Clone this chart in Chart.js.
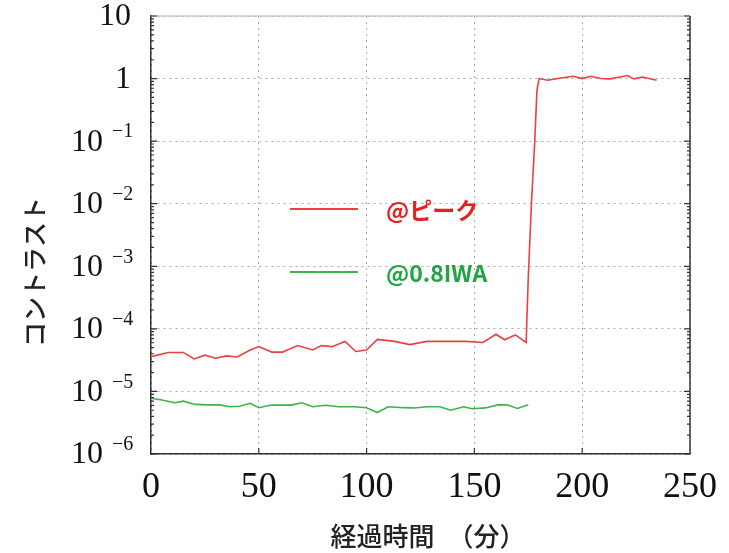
<!DOCTYPE html>
<html lang="ja">
<head>
  <meta charset="UTF-8" />
  <title>コントラスト</title>
  <script src="https://cdn.jsdelivr.net/npm/chart.js"></script>
  <style>
    body { margin: 0; background: #fff; }
    canvas { display: block; }
  </style>
</head>
<body>
  <canvas id="contrastChart" width="729" height="553"></canvas>

  <script>
    // data (time in minutes, contrast)
    const peakTime = [0, 8, 15, 20, 25, 30, 35, 40, 46, 50, 56, 61, 68, 75, 79, 84, 90, 95, 100, 105,
      113, 120, 128, 138, 146, 154, 160, 164, 169, 174, 175, 176.5, 178, 179, 180,
      184, 190, 196, 200, 204, 208.5, 213, 217.5, 221, 224, 228, 231.5, 234.5];
    const peakContrast = [3.6e-5, 4.2e-5, 4.2e-5, 3.3e-5, 3.8e-5, 3.4e-5, 3.7e-5, 3.55e-5, 4.6e-5, 5.2e-5,
      4.25e-5, 4.25e-5, 5.4e-5, 4.6e-5, 5.4e-5, 5.2e-5, 6.3e-5, 4.35e-5, 4.6e-5, 6.8e-5,
      6.3e-5, 5.6e-5, 6.3e-5, 6.3e-5, 6.3e-5, 6.05e-5, 8.2e-5, 6.7e-5, 8e-5, 6.05e-5,
      6.8e-4, 1.1e-2, 0.1, 0.64, 1.0,
      0.94, 1.02, 1.09, 1.0, 1.09, 1.0, 0.99, 1.06, 1.12, 0.99, 1.06, 0.99, 0.94];

    const iwaTime = [0, 5, 11, 15, 20.5, 26, 32, 36.5, 41, 46, 50, 56, 65, 70, 75, 81, 87, 94, 100, 105,
      110, 117, 122, 128, 134, 139, 145, 149, 155, 161, 165, 170, 175];
    const iwaContrast = [7.8e-6, 7.3e-6, 6.6e-6, 7.0e-6, 6.2e-6, 6.1e-6, 6.1e-6, 5.7e-6, 5.8e-6, 6.45e-6,
      5.5e-6, 6.05e-6, 6.05e-6, 6.6e-6, 5.7e-6, 6.0e-6, 5.7e-6, 5.7e-6, 5.5e-6, 4.6e-6,
      5.7e-6, 5.5e-6, 5.45e-6, 5.7e-6, 5.7e-6, 5.0e-6, 5.7e-6, 5.3e-6, 5.45e-6, 6.1e-6,
      6.1e-6, 5.35e-6, 6.1e-6];

    const seriesNames = ["@ピーク", "@0.8IWA"];
    const yTicks = [1e-6, 1e-5, 1e-4, 1e-3, 1e-2, 1e-1, 1, 10];
    const yTickExp = ["−6", "−5", "−4", "−3", "−2", "−1", "", ""];
    const xTicks = [0, 50, 100, 150, 200, 250];

    const RED = '#ec4040';
    const GREEN = '#3ab54a';

    // axis decoration, y labels with exponents, titles and the inline legend
    const decor = {
      id: 'decor',
      afterDraw(chart) {
        const ctx = chart.ctx;
        const a = chart.chartArea;
        const xs = chart.scales.x, ys = chart.scales.y;
        ctx.save();

        // top border light, right border dark
        ctx.strokeStyle = '#c8c8c8';
        ctx.lineWidth = 1.5;
        ctx.beginPath(); ctx.moveTo(a.left, a.top); ctx.lineTo(a.right, a.top); ctx.stroke();
        ctx.strokeStyle = '#333';
        ctx.beginPath(); ctx.moveTo(a.right, a.top); ctx.lineTo(a.right, a.bottom); ctx.stroke();

        // inward tick marks on left / right axes
        ctx.lineWidth = 1.2;
        yTicks.forEach((d, i) => {
          const y = ys.getPixelForValue(d);
          ctx.beginPath();
          ctx.moveTo(a.left, y); ctx.lineTo(a.left + 6, y);
          ctx.moveTo(a.right, y); ctx.lineTo(a.right - 6, y);
          ctx.stroke();
          if (i < yTicks.length - 1) {
            for (let m = 2; m <= 9; m++) {
              const ym = ys.getPixelForValue(d * m);
              ctx.beginPath();
              ctx.moveTo(a.left, ym); ctx.lineTo(a.left + 3, ym);
              ctx.moveTo(a.right, ym); ctx.lineTo(a.right - 3, ym);
              ctx.stroke();
            }
          }
        });
        xTicks.slice(1, -1).forEach(v => {
          const x = xs.getPixelForValue(v);
          ctx.beginPath(); ctx.moveTo(x, a.bottom); ctx.lineTo(x, a.bottom - 6); ctx.stroke();
        });

        // y tick labels: 10 with superscript exponent
        ctx.fillStyle = '#111';
        ctx.textBaseline = 'middle';
        yTicks.forEach((v, i) => {
          const y = ys.getPixelForValue(v);
          ctx.font = '32px "Liberation Serif", serif';
          ctx.textAlign = 'right';
          if (yTickExp[i] === '') {
            ctx.fillText(v === 1 ? '1' : '10', 131, y + 1);
          } else {
            ctx.fillText('10', 103, y + 1);
            ctx.font = '20px "Liberation Serif", serif';
            ctx.textAlign = 'left';
            ctx.fillText(yTickExp[i], 112, y - 9);
          }
        });

        // axis titles
        ctx.fillStyle = '#222';
        ctx.textAlign = 'center';
        ctx.font = '500 26px "Noto Sans CJK JP", sans-serif';
        ctx.fillText('経過時間　（分）', 428, 536);
        ctx.save();
        ctx.translate(34, 272);
        ctx.rotate(-Math.PI / 2);
        ctx.font = '500 25px "Noto Sans CJK JP", sans-serif';
        ctx.fillText('コントラスト', 0, 0);
        ctx.restore();

        // legend inside the plot
        const rows = [[RED, '#e52222', 209], [GREEN, '#1fa640', 272]];
        rows.forEach(([lc, tc, y], i) => {
          ctx.strokeStyle = lc;
          ctx.lineWidth = 2;
          ctx.beginPath(); ctx.moveTo(290, y); ctx.lineTo(358, y); ctx.stroke();
          ctx.fillStyle = tc;
          ctx.textAlign = 'left';
          ctx.font = 'bold 23px "Noto Sans CJK JP", sans-serif';
          ctx.fillText(seriesNames[i], 386, y + 1);
        });
        ctx.restore();
      }
    };

    new Chart(document.getElementById('contrastChart'), {
      type: 'line',
      data: {
        datasets: [{
          label: seriesNames[0],
          data: peakTime.map((t, i) => ({ x: t, y: peakContrast[i] })),
          borderColor: RED,
          borderWidth: 1.6,
          pointRadius: 0,
          tension: 0
        }, {
          label: seriesNames[1],
          data: iwaTime.map((t, i) => ({ x: t, y: iwaContrast[i] })),
          borderColor: GREEN,
          borderWidth: 1.6,
          pointRadius: 0,
          tension: 0
        }]
      },
      options: {
        responsive: false,
        animation: false,
        layout: { padding: { top: 16, right: 33, left: 0, bottom: 0 } },
        plugins: {
          legend: { display: false },
          tooltip: { enabled: false }
        },
        scales: {
          x: {
            type: 'linear',
            min: 0,
            max: 250,
            afterBuildTicks: s => { s.ticks = xTicks.map(v => ({ value: v })); },
            afterFit: s => { s.height = 99; },
            grid: { color: '#a8a8a8', lineWidth: 1, drawTicks: false },
            border: { color: '#333', width: 1.5, dash: [2, 4] },
            ticks: {
              color: '#111',
              padding: 12,
              maxRotation: 0,
              font: { family: '"Liberation Serif", serif', size: 36 }
            }
          },
          y: {
            type: 'logarithmic',
            min: 1e-6,
            max: 10,
            afterBuildTicks: s => { s.ticks = yTicks.map(v => ({ value: v })); },
            afterFit: s => { s.width = 151; },
            grid: { color: '#a8a8a8', lineWidth: 1, drawTicks: false },
            border: { color: '#333', width: 1.5, dash: [2, 4] },
            ticks: { display: false }
          }
        }
      },
      plugins: [decor]
    });
  </script>
</body>
</html>
